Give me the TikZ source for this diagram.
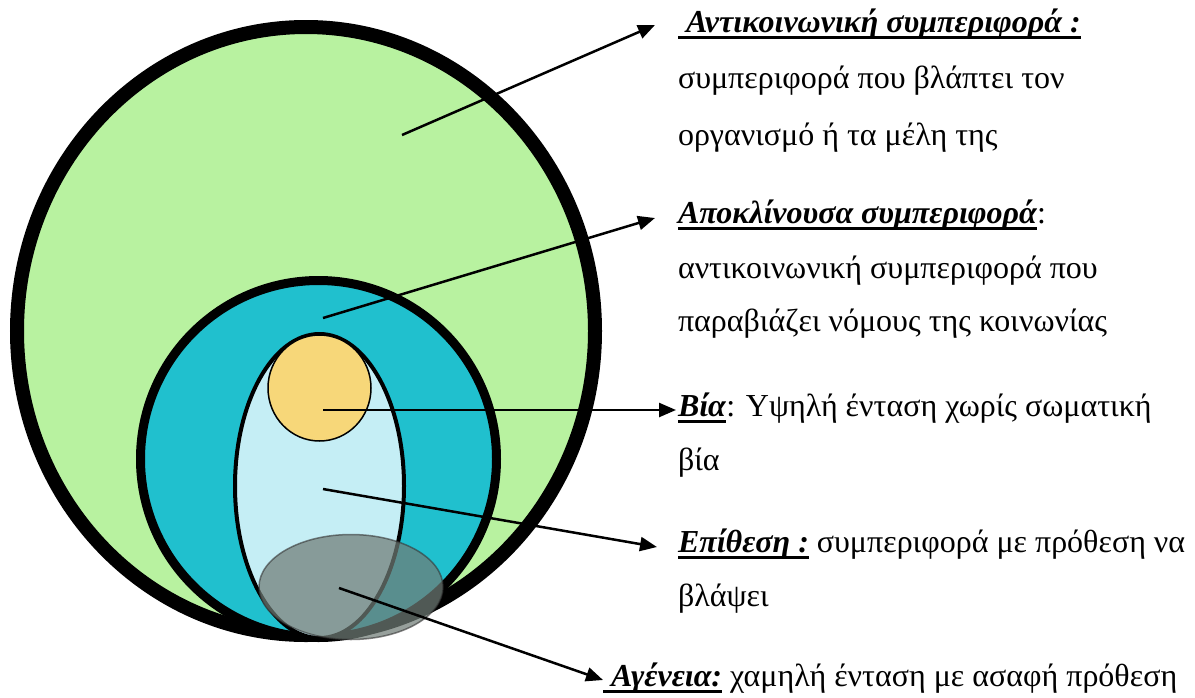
\documentclass[tikz,border=0pt]{standalone}
\usepackage{fontspec}
\setmainfont{Liberation Serif}
\usetikzlibrary{arrows.meta}
\definecolor{cgreen}{RGB}{184,242,160}
\definecolor{cteal}{RGB}{32,192,206}
\definecolor{clblue}{RGB}{197,238,245}
\definecolor{cyellow}{RGB}{247,215,121}
\definecolor{cgray}{RGB}{112,124,118}
\newcommand\myul[1]{\setbox0=\hbox{#1}\rlap{\vrule height -3.5pt depth 6.5pt width \wd0}\box0\relax}
\newcommand\hd[1]{\myul{\textbf{\textit{#1}}}}
\begin{document}
\begin{tikzpicture}[x=1pt,y=-1pt,
  lbl/.style={inner sep=0pt, outer sep=0pt, anchor=base west, font=\fontsize{32}{38}\selectfont},
  arr/.style={line width=2.5pt, -{Triangle[length=17pt,width=14pt]}}]
\fill[white] (0,0) rectangle (1195,697);
\useasboundingbox (0,0) rectangle (1195,697);
% shapes
\draw[line width=14pt, fill=cgreen] (306,331) ellipse [x radius=289, y radius=304];
\draw[line width=9pt, fill=cteal] (318.5,459) ellipse [x radius=178, y radius=178.5];
\draw[line width=4pt, fill=clblue] (319.5,486) ellipse [x radius=84.5, y radius=152];
\draw[line width=1.5pt, fill=cyellow] (319.5,388) ellipse [x radius=51.5, y radius=53];
\draw[line width=1.5pt, fill=cgray, fill opacity=0.72, draw=black!80, draw opacity=0.6] (351,587) ellipse [x radius=92, y radius=52.5];
% anchor points
\coordinate (s1) at (402,135); \coordinate (e1) at (655,25);
\coordinate (s2) at (323,318); \coordinate (e2) at (655,218);
\coordinate (s3) at (323,410); \coordinate (e3) at (676,410);
\coordinate (s4) at (323,489); \coordinate (e4) at (657,547);
\coordinate (s5) at (339,588); \coordinate (e5) at (603,680);
% labels
\node[lbl] (t1a) at (678,32) {\hd{\ Αντικοινωνική συμπεριφορά :}};
\node[lbl] (t1b) at (678,88) {συμπεριφορά που βλάπτει τον};
\node[lbl] (t1c) at (678,145) {οργανισμό ή τα μέλη της};
\node[lbl] (t2a) at (678,223) {\hd{Αποκλίνουσα συμπεριφορά}:};
\node[lbl] (t2b) at (678,278) {αντικοινωνική συμπεριφορά που};
\node[lbl] (t2c) at (678,331) {παραβιάζει νόμους της κοινωνίας};
\node[lbl] (t3a) at (678,416) {\hd{Βία}: Υψηλή ένταση χωρίς σωματική};
\node[lbl] (t3b) at (678,470) {βία};
\node[lbl] (t4a) at (678,552) {\hd{Επίθεση :} συμπεριφορά με πρόθεση να};
\node[lbl] (t4b) at (678,606) {βλάψει};
\node[lbl] (t5) at (603,686) {\hd{\ Αγένεια:} χαμηλή ένταση με ασαφή πρόθεση};
% connectors
\draw[arr] (s1) -- (e1);
\draw[arr] (s2) -- (e2);
\draw[arr] (s3) -- (e3);
\draw[arr] (s4) -- (e4);
\draw[arr] (s5) -- (e5);
\end{tikzpicture}
\end{document}
